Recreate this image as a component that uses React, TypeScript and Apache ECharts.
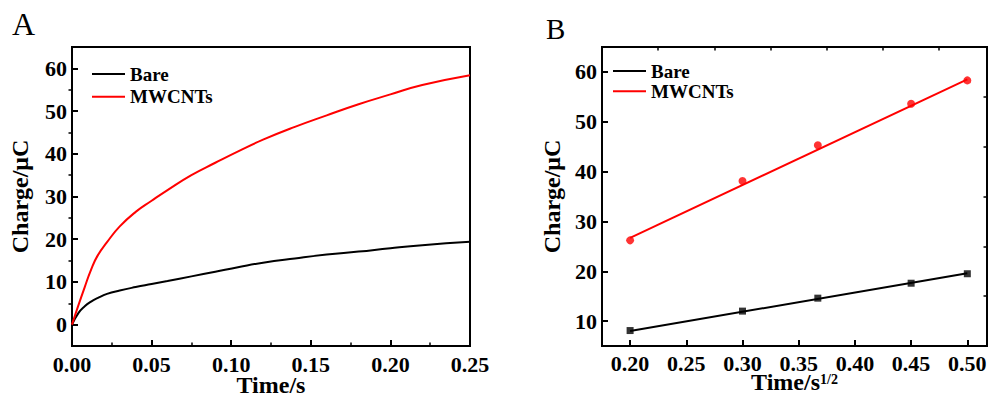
import React, { useEffect, useRef } from "react";
import * as echarts from "echarts";

// Panel A: charge vs time (chronocoulometry curves)
const timeA = [0, 0.004, 0.008, 0.012, 0.016, 0.022, 0.03, 0.04, 0.05, 0.06, 0.075, 0.09, 0.105, 0.12, 0.14, 0.16, 0.18, 0.2, 0.22, 0.25];
const bareA = [0, 2.7, 4.3, 5.4, 6.2, 7.2, 8.0, 8.8, 9.5, 10.2, 11.3, 12.4, 13.5, 14.5, 15.5, 16.4, 17.1, 17.9, 18.6, 19.4];
const mwcntA = [0, 4.5, 8.8, 12.9, 16.1, 19.3, 23.0, 26.4, 29.0, 31.5, 35.0, 37.9, 40.7, 43.3, 46.3, 49.0, 51.6, 53.9, 56.1, 58.4];

// Panel B: charge vs sqrt(time)
const sqrtTimeB = [0.2, 0.3, 0.367, 0.45, 0.5];
const bareB = [8.1, 12.0, 14.6, 17.6, 19.5];
const mwcntB = [26.2, 38.1, 45.3, 53.6, 58.3];
const fitXB = [0.2, 0.5];
const bareFitB = [8.0, 19.6];
const mwcntFitB = [26.7, 58.5];

// Tick values
const yMajorA = [0, 10, 20, 30, 40, 50, 60];
const yMinorA = [5, 15, 25, 35, 45, 55];
const yMajorB = [10, 20, 30, 40, 50, 60];
const yMinorB = [15, 25, 35, 45, 55];
const xMajorB = [0.2, 0.25, 0.3, 0.35, 0.4, 0.45, 0.5];
const xMinorB = [0.225, 0.275, 0.325, 0.375, 0.425, 0.475];
const legendNames = ["Bare", "MWCNTs"];

const FONT = '"Liberation Serif", "Times New Roman", serif';
const zip = (xs: number[], ys: number[]) => xs.map((x, i) => [x, ys[i]]);

const labelStyle = {
  fontFamily: FONT,
  fontWeight: "bold" as const,
  fontSize: 22,
  color: "#000",
};
const nameStyle = {
  fontFamily: FONT,
  fontWeight: "bold" as const,
  fontSize: 24,
  color: "#000",
};
const lineStyle = { color: "#000", width: 2 };

function tickLabel(margin: number, digits: number, values?: number[], lineHeight?: number) {
  const st = lineHeight ? { ...labelStyle, lineHeight } : { ...labelStyle };
  return {
    ...st,
    margin,
    ...(values ? { customValues: values } : {}),
    formatter: (v: number) => `{t|${digits > 0 ? v.toFixed(digits) : String(Math.round(v))}}`,
    rich: { t: st },
  };
}

function majorAxis(extra: any) {
  return {
    type: "value",
    nameMoveOverlap: false,
    axisLine: { show: true, onZero: false, lineStyle },
    axisTick: { show: true, inside: true, length: 6, lineStyle: { color: "#000", width: 2 } },
    splitLine: { show: false },
    minorSplitLine: { show: false },
    ...extra,
  };
}

function minorAxis(extra: any, values: number[]) {
  return {
    type: "value",
    axisLine: { show: false },
    axisLabel: { show: false },
    splitLine: { show: false },
    axisTick: {
      show: true,
      inside: true,
      length: 3.5,
      customValues: values,
      lineStyle: { color: "#000", width: 1.5 },
    },
    ...extra,
  };
}

export default function App() {
  const ref = useRef<HTMLDivElement>(null);

  useEffect(() => {
    document.body.style.margin = "0";
    if (!ref.current) return;
    const chart = echarts.init(ref.current, undefined, { renderer: "svg" });

    chart.setOption({
      animation: false,
      backgroundColor: "#fff",
      textStyle: { fontFamily: FONT, fontWeight: "bold", color: "#000" },
      title: [
        { text: "A", left: 12, top: 8, padding: 0, textStyle: { fontFamily: FONT, fontWeight: "normal", fontSize: 32, color: "#000" } },
        { text: "B", left: 546, top: 14, padding: 0, textStyle: { fontFamily: FONT, fontWeight: "normal", fontSize: 29, color: "#000" } },
      ],
      legend: [
        {
          data: legendNames,
          orient: "vertical",
          left: 92,
          top: 64.5,
          padding: 0,
          itemGap: 3.7,
          itemWidth: 33,
          itemHeight: 2,
          icon: "rect",
          selectedMode: false,
          textStyle: { fontFamily: FONT, fontWeight: "bold", fontSize: 19, lineHeight: 19, color: "#000" },
        },
        {
          data: legendNames,
          orient: "vertical",
          left: 613,
          top: 61.5,
          padding: 0,
          itemGap: 1.3,
          itemWidth: 33,
          itemHeight: 2,
          icon: "rect",
          selectedMode: false,
          textStyle: { fontFamily: FONT, fontWeight: "bold", fontSize: 19, lineHeight: 17, color: "#000" },
        },
      ],
      grid: [
        { left: 72, top: 47, width: 398, height: 299, show: true, borderColor: "#000", borderWidth: 2, backgroundColor: "transparent", outerBoundsMode: "none", containLabel: false },
        { left: 602, top: 47, width: 385, height: 299, show: true, borderColor: "#000", borderWidth: 2, backgroundColor: "transparent", outerBoundsMode: "none", containLabel: false },
      ],
      xAxis: [
        majorAxis({
          gridIndex: 0,
          min: 0,
          max: 0.25,
          interval: 0.05,
          minorTick: { show: true, splitNumber: 2, length: 3.5, lineStyle: { color: "#000", width: 1.5 } },
          axisLabel: tickLabel(10, 2, undefined, 16),
          name: "Time/s",
          nameLocation: "middle",
          nameGap: 29,
          nameTextStyle: { ...nameStyle, lineHeight: 20 },
        }),
        majorAxis({
          gridIndex: 1,
          min: 0.175,
          max: 0.5175,
          axisTick: { show: true, inside: true, length: 6, customValues: xMajorB, lineStyle: { color: "#000", width: 2 } },
          axisLabel: tickLabel(9, 2, xMajorB, 16),
          name: "{a|Time/s}{b|1/2}",
          nameLocation: "middle",
          nameGap: 26,
          nameTextStyle: {
            ...nameStyle,
            lineHeight: 20,
            rich: {
              a: { fontFamily: FONT, fontWeight: "bold", fontSize: 24, color: "#000", lineHeight: 20 },
              b: { fontFamily: FONT, fontWeight: "bold", fontSize: 14, color: "#000", verticalAlign: "top", lineHeight: 20, padding: [0, 0, 8, 0] },
            },
          },
        }),
        minorAxis({ gridIndex: 1, min: 0.175, max: 0.5175 }, xMinorB),
      ],
      yAxis: [
        majorAxis({
          gridIndex: 0,
          min: -5,
          max: 65,
          axisTick: { show: true, inside: true, length: 6, customValues: yMajorA, lineStyle: { color: "#000", width: 2 } },
          axisLabel: tickLabel(5, 0, yMajorA),
          name: "Charge/μC",
          nameLocation: "middle",
          nameRotate: 90,
          nameGap: 40,
          nameTextStyle: nameStyle,
        }),
        minorAxis({ gridIndex: 0, min: -5, max: 65 }, yMinorA),
        majorAxis({
          gridIndex: 1,
          min: 5,
          max: 65,
          axisTick: { show: true, inside: true, length: 6, customValues: yMajorB, lineStyle: { color: "#000", width: 2 } },
          axisLabel: tickLabel(5, 0, yMajorB),
          name: "Charge/μC",
          nameLocation: "middle",
          nameRotate: 90,
          nameGap: 38,
          nameTextStyle: nameStyle,
        }),
        minorAxis({ gridIndex: 1, min: 5, max: 65 }, yMinorB),
      ],
      series: [
        {
          name: "Bare",
          type: "line",
          xAxisIndex: 0,
          yAxisIndex: 0,
          data: zip(timeA, bareA),
          showSymbol: false,
          smooth: 0.5,
          color: "#000",
          lineStyle: { color: "#000", width: 2 },
        },
        {
          name: "MWCNTs",
          type: "line",
          xAxisIndex: 0,
          yAxisIndex: 0,
          data: zip(timeA, mwcntA),
          showSymbol: false,
          smooth: 0.5,
          color: "#ff0000",
          lineStyle: { color: "#ff0000", width: 2 },
        },
        {
          name: "Bare",
          type: "line",
          xAxisIndex: 1,
          yAxisIndex: 2,
          data: zip(fitXB, bareFitB),
          showSymbol: false,
          color: "#000",
          lineStyle: { color: "#000", width: 2 },
        },
        {
          name: "MWCNTs",
          type: "line",
          xAxisIndex: 1,
          yAxisIndex: 2,
          data: zip(fitXB, mwcntFitB),
          showSymbol: false,
          color: "#ff0000",
          lineStyle: { color: "#ff0000", width: 2 },
        },
        {
          name: "Bare points",
          type: "scatter",
          xAxisIndex: 1,
          yAxisIndex: 2,
          data: zip(sqrtTimeB, bareB),
          symbol: "rect",
          symbolSize: 7,
          itemStyle: { color: "#000" },
        },
        {
          name: "MWCNTs points",
          type: "scatter",
          xAxisIndex: 1,
          yAxisIndex: 2,
          data: zip(sqrtTimeB, mwcntB),
          symbol: "circle",
          symbolSize: 8,
          itemStyle: { color: "#ff0000" },
        },
      ],
    });

    return () => chart.dispose();
  }, []);

  return <div ref={ref} style={{ width: 988, height: 395 }} />;
}
